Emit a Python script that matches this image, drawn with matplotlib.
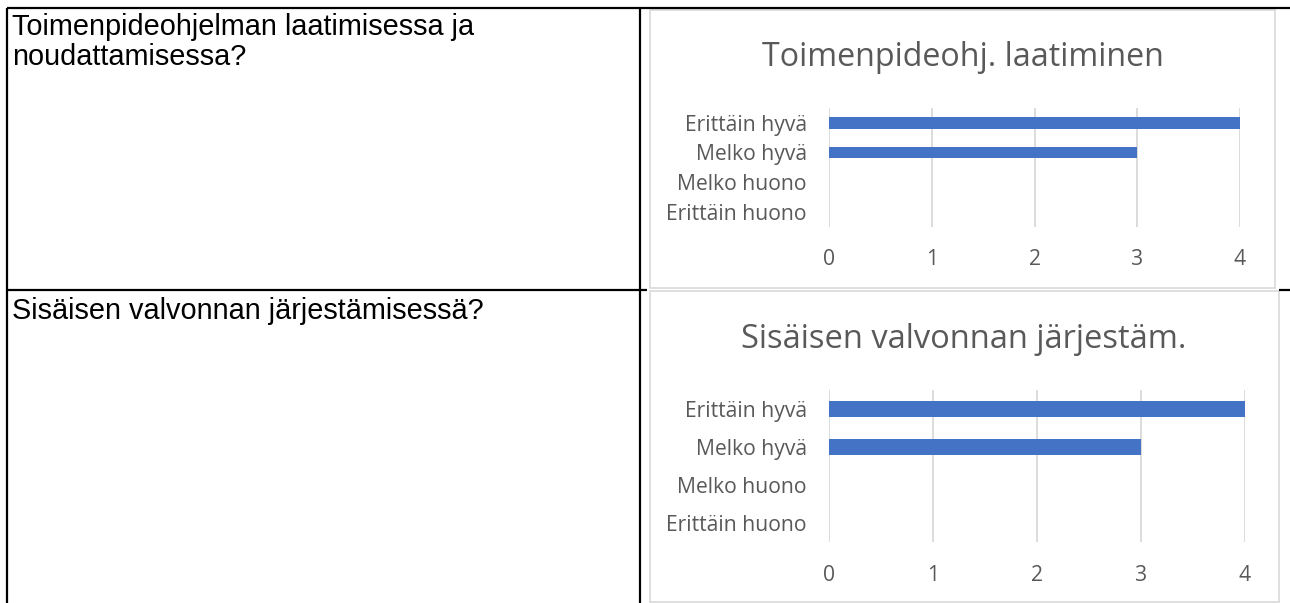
import numpy as np
import matplotlib
matplotlib.use("Agg")
import matplotlib.pyplot as plt
from matplotlib.patches import Rectangle

# data
categories = ["Erittäin hyvä", "Melko hyvä", "Melko huono", "Erittäin huono"]
laatiminen = [4, 3, 0, 0]
valvonta = [4, 3, 0, 0]
x_ticks = [0, 1, 2, 3, 4]
questions = ["Toimenpideohjelman laatimisessa ja\nnoudattamisessa?",
             "Sisäisen valvonnan järjestämisessä?"]
titles = ["Toimenpideohj. laatiminen", "Sisäisen valvonnan järjestäm."]

W, H = 1290, 603
BAR = "#4472C4"
GREY = "#595959"
GRID = "#D9D9D9"
CHART_FONT = "Open Sans"


def rect(x0, y0, x1, y1):
    # pixel box (top-left origin) -> figure fraction
    return [x0 / W, 1 - y1 / H, (x1 - x0) / W, (y1 - y0) / H]


fig = plt.figure(figsize=(W / 100, H / 100), dpi=100)

# table background layer in pixel coordinates
bg = fig.add_axes([0, 0, 1, 1])
bg.set_xlim(0, W)
bg.set_ylim(H, 0)
bg.axis("off")

lw = 1.6
bg.plot([7, W], [8, 8], color="black", lw=lw, solid_capstyle="butt")
bg.plot([7, 647], [290, 290], color="black", lw=lw, solid_capstyle="butt")
bg.plot([1279, W], [290, 290], color="black", lw=lw, solid_capstyle="butt")
bg.plot([7, 7], [8, H], color="black", lw=lw, solid_capstyle="butt")
bg.plot([640, 640], [8, H], color="black", lw=lw, solid_capstyle="butt")

# chart frames
bg.add_patch(Rectangle((650, 10), 625, 278, facecolor="white", edgecolor=GRID, lw=1.2))
bg.add_patch(Rectangle((650, 291), 629, 311, facecolor="white", edgecolor=GRID, lw=1.2))

# left column questions
q1a, q1b = questions[0].split("\n")
bg.text(12, 35, q1a, fontsize=20.8, family="Liberation Sans", va="baseline", ha="left")
bg.text(12, 65, q1b, fontsize=20.8, family="Liberation Sans", va="baseline", ha="left")
bg.text(12, 319, questions[1], fontsize=20.8, family="Liberation Sans",
        va="baseline", ha="left")

# chart titles
bg.text(963, 57, titles[0], fontsize=23.2, family=CHART_FONT, color=GREY,
        ha="center", va="center")
bg.text(964, 339, titles[1], fontsize=23.5, family=CHART_FONT, color=GREY,
        ha="center", va="center")


def bar_chart(box, values):
    ax = fig.add_axes(rect(*box))
    y = np.arange(len(categories))
    ax.barh(y, values, height=0.4, color=BAR, zorder=3)
    ax.set_xlim(0, 4)
    ax.set_ylim(len(categories) - 0.5, -0.5)
    ax.set_xticks(x_ticks)
    ax.set_yticks(y)
    ax.set_yticklabels(categories)
    ax.xaxis.grid(True, color=GRID, lw=1.3, zorder=0)
    ax.set_axisbelow(True)
    for s in ax.spines.values():
        s.set_visible(False)
    ax.tick_params(axis="y", length=0, pad=16, labelsize=15.2, labelcolor=GREY)
    ax.tick_params(axis="x", length=0, pad=16.5, labelsize=15.2, labelcolor=GREY)
    for lab in ax.get_xticklabels() + ax.get_yticklabels():
        lab.set_family(CHART_FONT)
    ax.patch.set_alpha(0)
    return ax


bar_chart((829, 108, 1240, 226.5), laatiminen)
bar_chart((829, 390, 1244.5, 542), valvonta)

fig.savefig("out.png", dpi=100)
